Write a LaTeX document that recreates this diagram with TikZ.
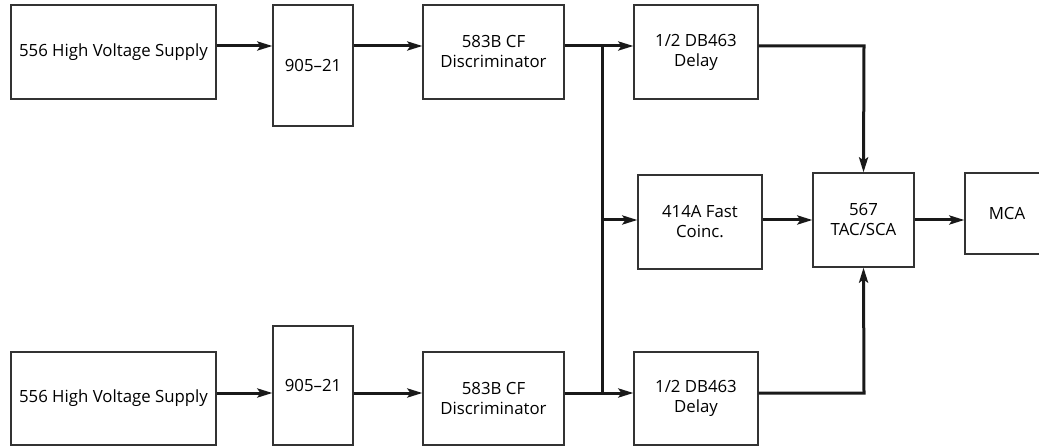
\documentclass[tikz,border=0pt]{standalone}
\usepackage{fontspec}
\setmainfont{Open Sans}
\usetikzlibrary{arrows.meta}

\begin{document}
\begin{tikzpicture}[x=1pt,y=-1pt,
	unit/.style={draw=black!80, line width=1.2pt, align=center, inner sep=0pt,
		font=\fontsize{16.8}{20}\selectfont, minimum height=94pt},
	sig/.style={line width=3pt, black!90, -{Stealth[length=15pt,width=9pt,inset=3pt]}},
	wire/.style={line width=3pt, black!90}]
\useasboundingbox (0,0) rectangle (1039,446);
	% upper detector chain
	\node[unit, minimum width=205pt] (hvA) at (113.5,52) {556 High Voltage Supply};
	\node[unit, minimum width=80pt, minimum height=121pt] (pmA) at (313,65.5) {905--21};
	\node[unit, minimum width=141pt] (cfA) at (493.5,52) {583B CF\\Discriminator};
	\node[unit, minimum width=124pt] (dlA) at (696,52) {1/2 DB463\\Delay};
	% lower detector chain
	\node[unit, minimum width=205pt, minimum height=93pt] (hvB) at (113.5,398.5) {556 High Voltage Supply};
	\node[unit, minimum width=80pt, minimum height=119pt] (pmB) at (313,385.5) {905--21};
	\node[unit, minimum width=141pt, minimum height=93pt] (cfB) at (493.5,398.5) {583B CF\\Discriminator};
	\node[unit, minimum width=124pt, minimum height=93pt] (dlB) at (696,398.5) {1/2 DB463\\Delay};
	% timing
	\node[unit, minimum width=124pt] (fc) at (700,222) {414A Fast\\Coinc.};
	\node[unit, minimum width=101pt] (tac) at (863.5,220) {567\\TAC/SCA};
	\node[unit, minimum width=84pt, minimum height=81pt] (mca) at (1007,213.5) {MCA};
	\coordinate (busA) at (602,46);
	\coordinate (busB) at (602,393);
	\coordinate (busC) at (602,220);
	\coordinate (turnA) at (864,46);
	\coordinate (turnB) at (864,393);

	\draw[sig] ([yshift=6pt]hvA.east) -- ([yshift=6pt]hvA.east -| pmA.west);
	\draw[sig] ([yshift=6pt]pmA.east |- hvA.east) -- ([yshift=6pt]cfA.west);
	\draw[sig] ([yshift=6pt]cfA.east) -- ([yshift=6pt]dlA.west);
	\draw[sig] ([yshift=5.5pt]hvB.east) -- ([yshift=5.5pt]hvB.east -| pmB.west);
	\draw[sig] ([yshift=5.5pt]pmB.east |- hvB.east) -- ([yshift=5.5pt]cfB.west);
	\draw[sig] ([yshift=5.5pt]cfB.east) -- ([yshift=5.5pt]dlB.west);
	\draw[wire] (busA) -- (busB);
	\draw[sig] (busC) -- (busC -| fc.west);
	\draw[sig] (busC -| fc.east) -- (tac.west);
	\draw[sig] (tac.east) -- (tac.east -| mca.west);
	\draw[sig] ([yshift=6pt]dlA.east) -- (turnA) -- (tac.north);
	\draw[sig] ([yshift=5.5pt]dlB.east) -- (turnB) -- (tac.south);
\end{tikzpicture}
\end{document}
